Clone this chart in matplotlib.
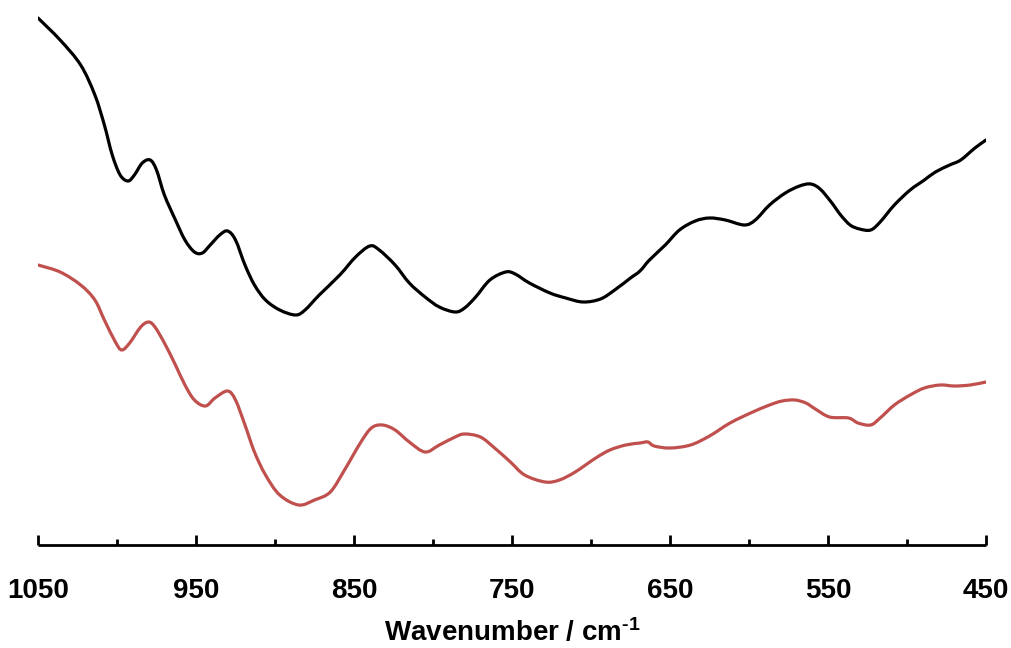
import matplotlib
matplotlib.use("Agg")
import matplotlib.pyplot as plt
import numpy as np
from matplotlib.path import Path
from matplotlib.patches import PathPatch
from matplotlib.ticker import FixedLocator

plt.rcParams['font.family'] = ['Liberation Sans', 'DejaVu Sans']
plt.rcParams['mathtext.fontset'] = 'custom'
plt.rcParams['mathtext.rm'] = 'Liberation Sans:bold'
plt.rcParams['mathtext.bf'] = 'Liberation Sans:bold'
plt.rcParams['mathtext.it'] = 'Liberation Sans:bold'

# Black spectrum (wavenumber, intensity in arbitrary units)
black_wn = [1050, 1036, 1023, 1014, 1008, 1003, 998, 993, 989, 984, 979, 975, 970, 963,
            957, 951, 946, 941, 935, 930, 925, 919, 913, 906, 897, 887, 881, 872, 859,
            849, 840, 834, 824, 815, 805, 796, 786, 780, 773, 764, 754, 748, 739, 726,
            716, 705, 694, 685, 675, 669, 663, 653, 644, 634, 625, 615, 603, 596, 587,
            577, 568, 561, 555, 548, 542, 536, 530, 523, 517, 508, 498, 489, 482, 473,
            466, 457, 450]
black_int = [527, 505, 480, 450, 420, 390, 370, 364, 370, 382, 385, 375, 350, 325,
             305, 293, 292, 300, 310, 314, 305, 280, 260, 245, 235, 230, 235, 250, 270,
             288, 299, 295, 280, 262, 248, 238, 233, 237, 248, 265, 273, 271, 262, 252,
             247, 243, 246, 255, 267, 274, 285, 300, 315, 324, 327, 325, 320, 325, 340,
             352, 359, 361, 356, 343, 330, 320, 316, 315, 323, 340, 355, 365, 373, 380,
             385, 397, 405]

# Red spectrum
red_wn = [1050, 1036, 1023, 1014, 1008, 1001, 997, 992, 985, 980, 976, 970, 963, 957,
          951, 944, 938, 930, 925, 919, 913, 906, 897, 885, 875, 865, 856, 846, 839,
          832, 824, 815, 805, 796, 786, 780, 770, 761, 751, 742, 729, 720, 710, 697,
          688, 678, 669, 664, 660, 650, 637, 625, 612, 599, 587, 579, 571, 564, 558, 549,
          537, 531, 523, 517, 508, 498, 489, 479, 470, 460, 450]
red_int = [280, 273, 260, 245, 225, 203, 195, 202, 218, 223, 218, 202, 180, 160,
           145, 139, 147, 154, 145, 120, 93, 70, 50, 40, 45, 53, 75, 102, 117,
           120, 115, 103, 93, 100, 108, 111, 108, 97, 83, 70, 63, 65, 73, 87,
           95, 100, 102, 103, 99, 97, 100, 109, 122, 132, 140, 144, 145, 142, 136, 128,
           127, 122, 120, 127, 140, 150, 157, 160, 159, 160, 163]

major_ticks = [1050, 950, 850, 750, 650, 550, 450]
minor_ticks = [1000, 900, 800, 700, 600, 500]


def smooth_path(xs, ys):
    """Excel-style smoothed line: cubic Bezier segments through the data points."""
    p = np.column_stack([xs, ys]).astype(float)
    n = len(p)
    verts = [p[0]]
    codes = [Path.MOVETO]
    for i in range(n - 1):
        p0 = p[i - 1] if i > 0 else p[i]
        p1 = p[i]
        p2 = p[i + 1]
        p3 = p[i + 2] if i + 2 < n else p[i + 1]
        c1 = p1 + (p2 - p0) / 6.0
        c2 = p2 - (p3 - p1) / 6.0
        verts += [c1, c2, p2]
        codes += [Path.CURVE4] * 3
    return Path(verts, codes)


fig = plt.figure(figsize=(10.11, 6.48), dpi=100)
ax = fig.add_axes([38/1011, 103/648, 948/1011, 535/648])

for xs, ys, col in [(black_wn, black_int, 'black'), (red_wn, red_int, '#C0504D')]:
    patch = PathPatch(smooth_path(xs, ys), facecolor='none', edgecolor=col, lw=2.3,
                      joinstyle='round', capstyle='round', transform=ax.transData)
    ax.add_patch(patch)

ax.set_xlim(1050, 450)
ax.set_ylim(0, 535)

for s in ['top', 'right', 'left']:
    ax.spines[s].set_visible(False)
ax.spines['bottom'].set_linewidth(2.0)
ax.spines['bottom'].set_capstyle('butt')

ax.set_xticks(major_ticks)
ax.set_xticklabels([str(t) for t in major_ticks])
ax.xaxis.set_minor_locator(FixedLocator(minor_ticks))
ax.tick_params(axis='x', which='major', direction='in', length=7, width=2.0, pad=24,
               labelsize=20)
ax.tick_params(axis='x', which='minor', direction='in', length=4, width=2.0)
for lab in ax.get_xticklabels():
    lab.set_fontweight('bold')
ax.set_yticks([])

ax.set_xlabel(r'Wavenumber / cm$^{\text{-}1}$', fontsize=20, fontweight='bold', labelpad=10)

fig.savefig('out.png', dpi=100)
